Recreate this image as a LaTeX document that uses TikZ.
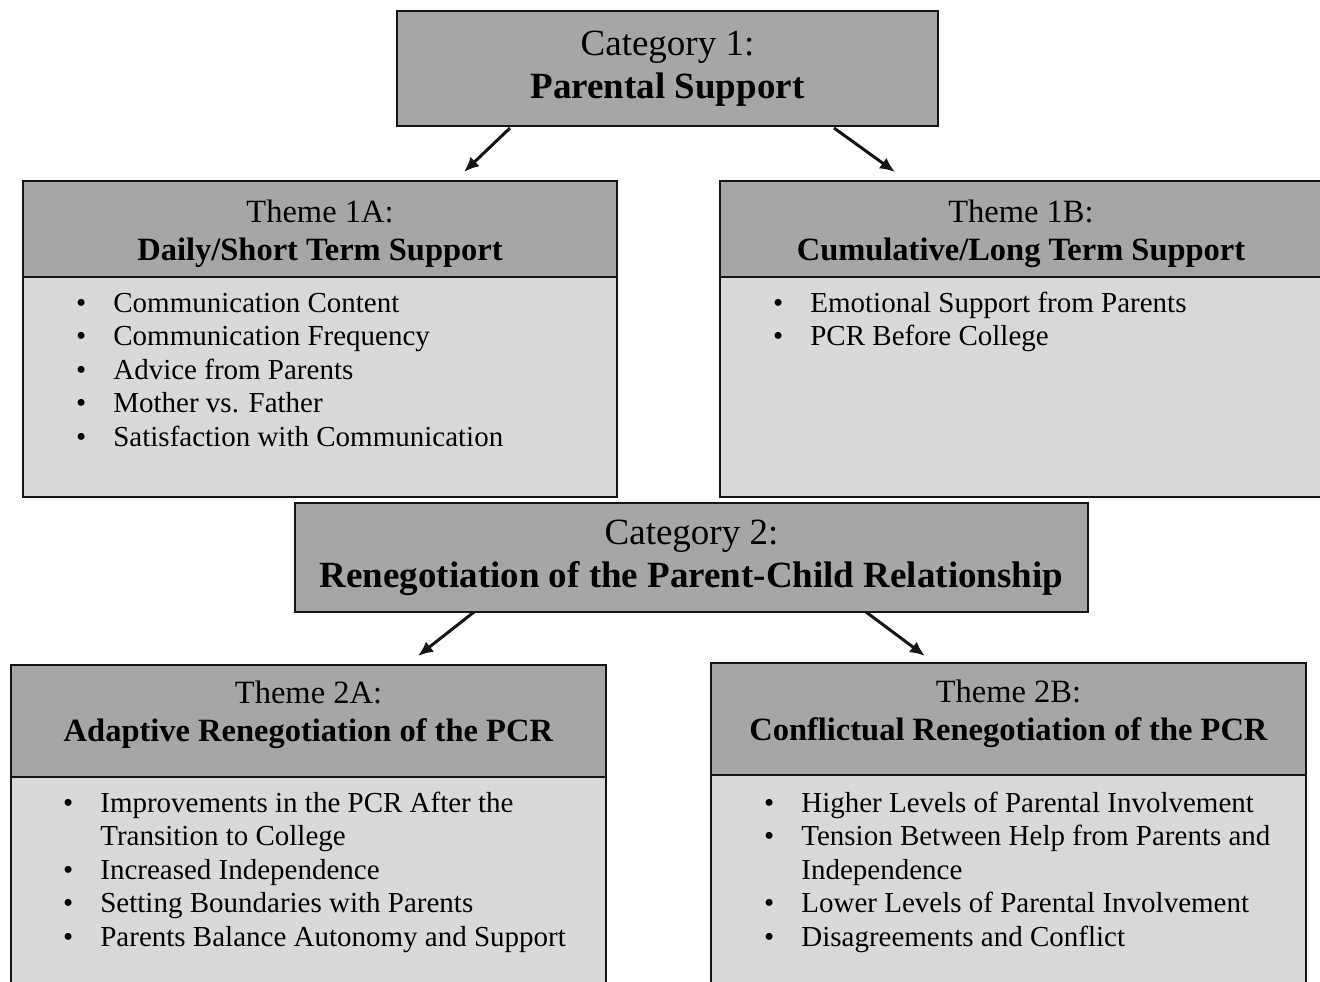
\documentclass[tikz,border=0pt]{standalone}
\usepackage{fontspec}
\setmainfont{Liberation Serif}
\usetikzlibrary{positioning,arrows.meta}

\definecolor{headgray}{HTML}{A6A6A6}
\definecolor{bodygray}{HTML}{D9D9D9}
\definecolor{edge}{HTML}{141414}
\newcommand{\catsize}{\fontsize{37}{43}\selectfont}
\newcommand{\themesize}{\fontsize{32.5}{38}\selectfont}
\newcommand{\itemsize}{\fontsize{29}{33.4}\selectfont}

\begin{document}
\begin{tikzpicture}[x=1pt,y=-1pt,
    catbox/.style={draw=edge,line width=2.8pt,fill=headgray,outer sep=0pt,inner sep=0pt,align=center,font=\catsize},
    headbox/.style={draw=edge,line width=2.8pt,fill=headgray,outer sep=0pt,inner sep=0pt},
    bodybox/.style={draw=edge,line width=2.8pt,fill=bodygray,outer sep=0pt,inner sep=0pt},
    headtext/.style={inner sep=0pt,align=center,font=\themesize},
    listtext/.style={inner sep=0pt,font=\itemsize},
    arr/.style={-{Latex[length=15pt,width=13pt]},line width=3pt,draw=edge}]

    \useasboundingbox (0,0) rectangle (1320,982);

    % category 1 and its two themes
    \node[catbox,minimum width=541pt,minimum height=115pt] (cat1) at (667.5,68.5)
        {Category 1:\\\textbf{Parental Support}};
    \path (cat1.south) ++(0,2) coordinate (cat1foot);

    \node[headbox,minimum width=594pt,minimum height=96pt] (t1ahead) at (320,229) {};
    \node[bodybox,minimum width=594pt,minimum height=220pt,below=0pt of t1ahead] (t1abody) {};
    \node[headtext,below=18.5pt of t1ahead.north] (t1atitle)
        {Theme 1A:\\\textbf{Daily/Short Term Support}};
    \node[listtext,below right=12pt and 53pt of t1abody.north west] (t1alist) {%
        \begin{tabular}{@{}l@{\hspace{27pt}}l@{}}
            \textbullet & Communication Content\\
            \textbullet & Communication Frequency\\
            \textbullet & Advice from Parents\\
            \textbullet & Mother vs. Father\\
            \textbullet & Satisfaction with Communication
        \end{tabular}};

    \node[headbox,minimum width=602pt,minimum height=96pt] (t1bhead) at (1021,229) {};
    \node[bodybox,minimum width=602pt,minimum height=220pt,below=0pt of t1bhead] (t1bbody) {};
    \node[headtext,below=18.5pt of t1bhead.north] (t1btitle)
        {Theme 1B:\\\textbf{Cumulative/Long Term Support}};
    \node[listtext,below right=12pt and 53pt of t1bbody.north west] (t1blist) {%
        \begin{tabular}{@{}l@{\hspace{27pt}}l@{}}
            \textbullet & Emotional Support from Parents\\
            \textbullet & PCR Before College
        \end{tabular}};

    \draw[arr] ([xshift=-157.5pt]cat1foot) -- ([xshift=144pt,yshift=9pt]t1ahead.north);
    \draw[arr] ([xshift=166.5pt]cat1foot) -- ([xshift=-126pt,yshift=9pt]t1bhead.north);

    % category 2 and its two themes
    \node[catbox,minimum width=793pt,minimum height=109pt] (cat2) at (691.5,557.5)
        {Category 2:\\\textbf{Renegotiation of the Parent-Child Relationship}};

    \node[headbox,minimum width=595pt,minimum height=112pt] (t2ahead) at (308.5,721) {};
    \node[bodybox,minimum width=595pt,minimum height=220pt,below=0pt of t2ahead] (t2abody) {};
    \node[headtext,below=16pt of t2ahead.north] (t2atitle)
        {Theme 2A:\\\textbf{Adaptive Renegotiation of the PCR}};
    \node[listtext,below right=12pt and 52pt of t2abody.north west] (t2alist) {%
        \begin{tabular}{@{}l@{\hspace{27pt}}l@{}}
            \textbullet & Improvements in the PCR After the\\
                        & Transition to College\\
            \textbullet & Increased Independence\\
            \textbullet & Setting Boundaries with Parents\\
            \textbullet & Parents Balance Autonomy and Support
        \end{tabular}};

    \node[headbox,minimum width=595pt,minimum height=112pt] (t2bhead) at (1008.5,719) {};
    \node[bodybox,minimum width=595pt,minimum height=220pt,below=0pt of t2bhead] (t2bbody) {};
    \node[headtext,below=17pt of t2bhead.north] (t2btitle)
        {Theme 2B:\\\textbf{Conflictual Renegotiation of the PCR}};
    \node[listtext,below right=14pt and 53pt of t2bbody.north west] (t2blist) {%
        \begin{tabular}{@{}l@{\hspace{27pt}}l@{}}
            \textbullet & Higher Levels of Parental Involvement\\
            \textbullet & Tension Between Help from Parents and\\
                        & Independence\\
            \textbullet & Lower Levels of Parental Involvement\\
            \textbullet & Disagreements and Conflict
        \end{tabular}};

    \draw[arr] ([xshift=-217.5pt]cat2.south) -- ([xshift=109.5pt,yshift=9pt]t2ahead.north);
    \draw[arr] ([xshift=174.5pt]cat2.south) -- ([xshift=-83.5pt,yshift=7pt]t2bhead.north);
\end{tikzpicture}
\end{document}
